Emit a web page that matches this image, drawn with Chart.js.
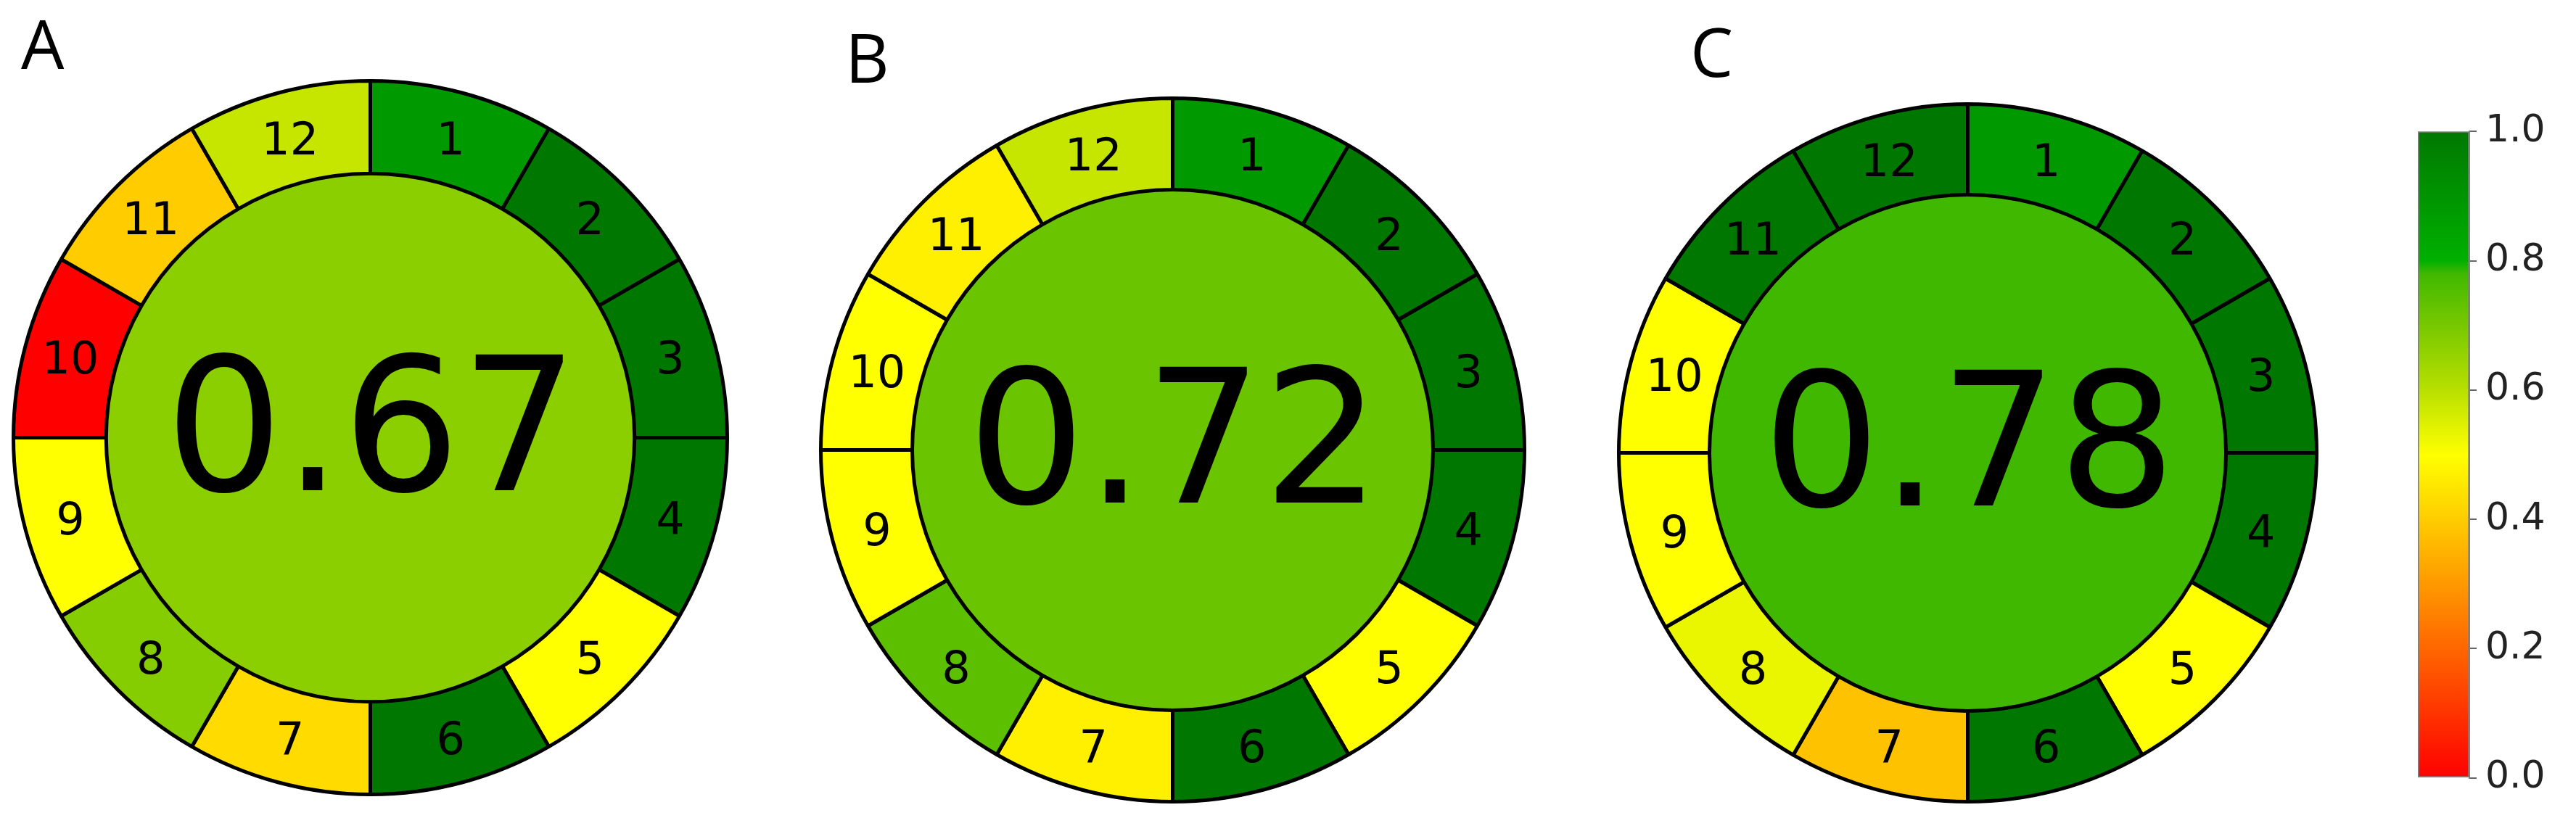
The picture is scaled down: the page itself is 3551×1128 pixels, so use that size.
<!DOCTYPE html>
<html>
<head>
<meta charset="utf-8">
<script src="https://cdn.jsdelivr.net/npm/chart.js@4/dist/chart.umd.min.js"></script>
<style>
  html, body { margin: 0; padding: 0; background: #fff; }
  body { width: 3551px; height: 1128px; position: relative; overflow: hidden; }
  canvas { position: absolute; }
  .panel { position: absolute; font-family: "Open Sans", sans-serif; font-size: 94px; line-height: 94px; color: #000; }
</style>
</head>
<body>
<div class="panel" style="left:29px;top:12px">A</div>
<div class="panel" style="left:1165px;top:31px">B</div>
<div class="panel" style="left:2330px;top:23px">C</div>
<canvas id="chartA" width="989" height="989" style="left:16px;top:109px"></canvas>
<canvas id="chartB" width="975" height="975" style="left:1129px;top:133px"></canvas>
<canvas id="chartC" width="967" height="967" style="left:2229px;top:141px"></canvas>
<canvas id="colorbar" width="203" height="978" style="left:3331px;top:138px"></canvas>
<script>
// criteria numbers around each ring
const criteria = ['1', '2', '3', '4', '5', '6', '7', '8', '9', '10', '11', '12'];

// per-criterion scores (0..1)
const scoresA = [0.88, 1, 1, 1, 0.5, 1, 0.43, 0.68, 0.5, 0, 0.4, 0.58];
const scoresB = [0.88, 1, 1, 1, 0.5, 1, 0.47, 0.74, 0.5, 0.5, 0.47, 0.58];
const scoresC = [0.88, 1, 1, 1, 0.5, 1, 0.38, 0.53, 0.5, 0.5, 1, 1];

// overall scores in the middle
const totals = [0.67, 0.72, 0.78];

// colour bar ticks
const colorbarTicks = [0, 0.2, 0.4, 0.6, 0.8, 1.0];

// red -> yellow -> green colour map
const cmapStops = [
  [0, '#ff0000'], [0.5, '#ffff00'], [0.6, '#b8e000'], [0.7, '#78c800'],
  [0.78, '#40b800'], [0.8, '#00b000'], [1, '#007800']
];

function hex2rgb(h) {
  return [parseInt(h.slice(1, 3), 16), parseInt(h.slice(3, 5), 16), parseInt(h.slice(5, 7), 16)];
}

function cmap(v) {
  for (let i = 1; i < cmapStops.length; i++) {
    const [v0, c0] = cmapStops[i - 1];
    const [v1, c1] = cmapStops[i];
    if (v <= v1) {
      const t = (v - v0) / (v1 - v0);
      const a = hex2rgb(c0), b = hex2rgb(c1);
      const c = a.map((x, k) => Math.round(x + (b[k] - x) * t));
      return 'rgb(' + c.join(',') + ')';
    }
  }
  return cmapStops[cmapStops.length - 1][1];
}

const labelPlugin = {
  id: 'ringLabels',
  afterDatasetsDraw(chart) {
    const ctx = chart.ctx;
    const meta = chart.getDatasetMeta(0);
    ctx.save();
    ctx.fillStyle = '#000';
    ctx.textAlign = 'center';
    ctx.textBaseline = 'alphabetic';
    ctx.font = '62px "DejaVu Sans"';
    meta.data.forEach((arc, i) => {
      const p = arc.tooltipPosition();
      ctx.fillText(chart.data.labels[i], p.x, p.y + 62 * 0.3645);
    });
    const c = chart.getDatasetMeta(1).data[0];
    ctx.font = '256px "DejaVu Sans"';
    ctx.fillText(chart.options.plugins.ringLabels.total.toFixed(2), c.x + 2, c.y + 72);
    ctx.restore();
  }
};

function makeRing(id, scores, total) {
  return new Chart(document.getElementById(id), {
    type: 'doughnut',
    data: {
      labels: criteria,
      datasets: [
        {
          data: criteria.map(() => 1),
          backgroundColor: scores.map(cmap),
          borderColor: '#000',
          borderWidth: 5,
          hoverBorderWidth: 5,
          weight: 1
        },
        {
          data: [1],
          backgroundColor: cmap(total),
          borderWidth: 0,
          hoverBorderWidth: 0,
          weight: 2.85
        }
      ]
    },
    options: {
      responsive: false,
      animation: false,
      devicePixelRatio: 1,
      cutout: 0,
      events: [],
      layout: { padding: 0 },
      plugins: {
        legend: { display: false },
        tooltip: { enabled: false },
        ringLabels: { total: total }
      }
    },
    plugins: [labelPlugin]
  });
}

makeRing('chartA', scoresA, totals[0]);
makeRing('chartB', scoresB, totals[1]);
makeRing('chartC', scoresC, totals[2]);

new Chart(document.getElementById('colorbar'), {
  type: 'bar',
  data: {
    labels: [''],
    datasets: [{
      data: [1],
      borderColor: '#808080',
      borderWidth: 2,
      borderSkipped: false,
      barPercentage: 1,
      categoryPercentage: 1,
      backgroundColor(ctx) {
        const chart = ctx.chart;
        const y = chart.scales.y;
        if (!chart.chartArea || !y) return '#fff';
        const g = chart.ctx.createLinearGradient(0, y.getPixelForValue(0), 0, y.getPixelForValue(1));
        cmapStops.forEach(([v, c]) => g.addColorStop(v, c));
        return g;
      }
    }]
  },
  options: {
    responsive: false,
    animation: false,
    devicePixelRatio: 1,
    events: [],
    layout: { padding: { left: 2, right: 0, top: 40, bottom: 40 } },
    plugins: { legend: { display: false }, tooltip: { enabled: false } },
    scales: {
      x: { display: false },
      y: {
        position: 'right',
        min: 0,
        max: 1,
        afterFit(scale) { scale.width = 130; },
        afterBuildTicks(scale) { scale.ticks = colorbarTicks.map(v => ({ value: v })); },
        grid: { drawOnChartArea: false, drawTicks: true, tickLength: 10, color: '#666', lineWidth: 2 },
        border: { display: true, color: '#808080', width: 2 },
        ticks: {
          padding: 12,
          color: '#222',
          font: { family: 'DejaVu Sans', size: 52 },
          callback: v => v.toFixed(1)
        }
      }
    }
  }
});
</script>
</body>
</html>
